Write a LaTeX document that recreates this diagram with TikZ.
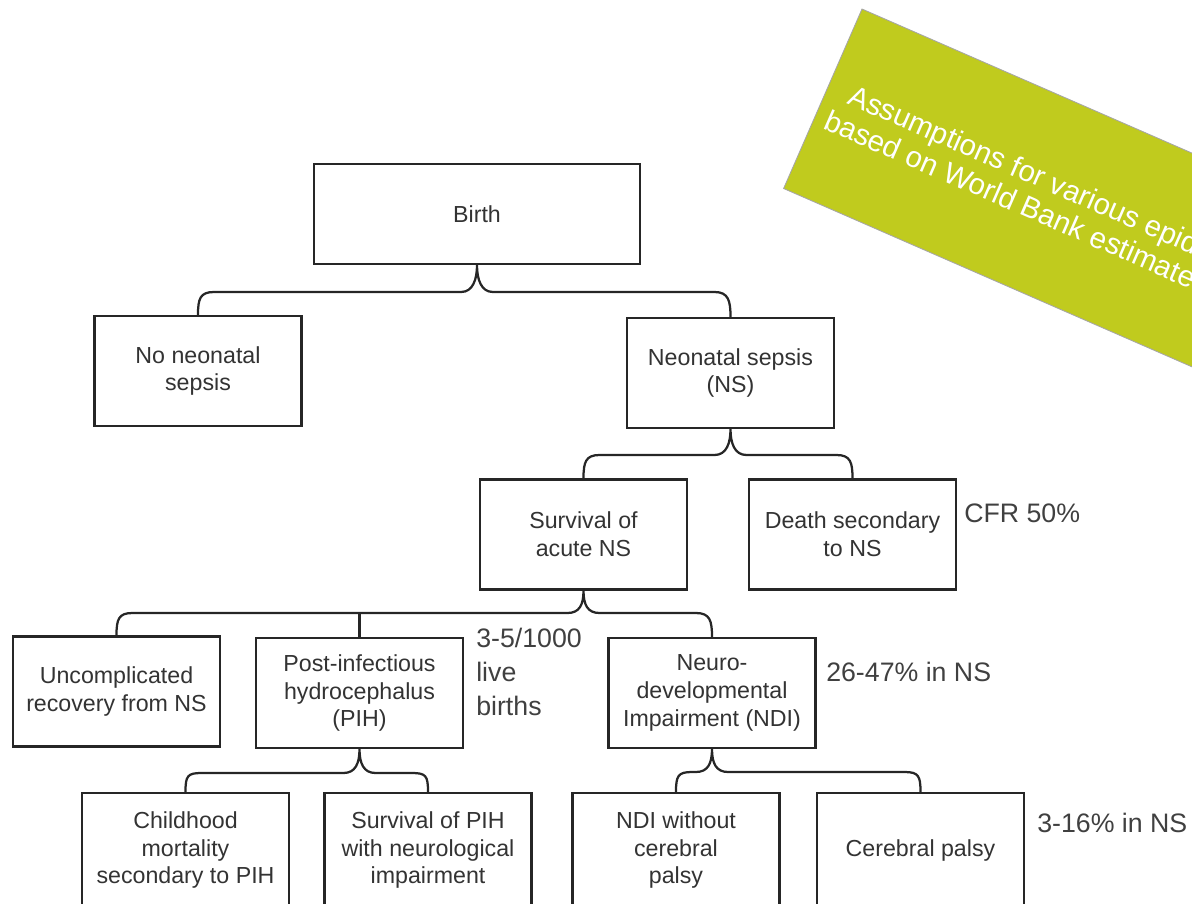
\documentclass[tikz,border=0pt]{standalone}
\usepackage{fontspec}
\setmainfont{Liberation Sans}
\usetikzlibrary{calc}
\definecolor{bannergreen}{RGB}{192,203,30}

% Curly branch from a parent box down to two child boxes, bar at height #4
\newcommand{\splitbrace}[4]{%
  \draw[branch] (#2.north) .. controls +(0,-16) and +(-14,0) .. ($(#2.north |- 0,#4)+(16,0)$)
    -- ($(#1.south |- 0,#4)+(-16,0)$) .. controls +(12,0) and +(0,14) .. (#1.south)
    .. controls +(0,14) and +(-12,0) .. ($(#1.south |- 0,#4)+(16,0)$)
    -- ($(#3.north |- 0,#4)+(-16,0)$) .. controls +(14,0) and +(0,-16) .. (#3.north);%
}

\begin{document}
\begin{tikzpicture}[x=0.025cm,y=-0.025cm,
    treebox/.style={draw=black!85,line width=1.6pt,fill=white,minimum width=5.175cm,minimum height=2.75cm,
      align=center,inner sep=2pt,text=black!80,font=\fontsize{16.5}{19.8}\selectfont},
    branch/.style={draw=black!85,line width=1.6pt},
    rate/.style={text=black!75,align=left,inner sep=0pt,font=\fontsize{19}{24}\selectfont},
    bannertext/.style={text=white,inner sep=0pt,rotate=-23.6,font=\fontsize{21}{23}\selectfont}]
    \useasboundingbox (0,0) rectangle (1192,903);
    \clip (0,0) rectangle (1192,903);

    % Green banner in the corner
    \filldraw[fill=bannergreen,draw=black!35,line width=0.6pt] (862,9) -- (1320,209) -- (1241.6,388.5) -- (783.6,188.5) -- cycle;
    \node[bannertext,anchor=base west] (bannerline1) at (846,103) {Assumptions for various epidemiological};
    \node[bannertext,anchor=base west] (bannerline2) at (822,128) {based on World Bank estimates};

    % Boxes of the tree
    \node[treebox,minimum width=8.15cm,minimum height=2.5cm] (birth) at (477,214) {Birth};
    \node[treebox] (nosepsis) at (198,371) {No neonatal\\sepsis};
    \node[treebox] (sepsis) at (730.5,373) {Neonatal sepsis\\(NS)};
    \node[treebox] (survival) at (583.5,534.5) {Survival of\\acute NS};
    \node[treebox] (death) at (852.5,534.5) {Death secondary\\to NS};
    \node[treebox] (recovery) at (116.5,691.5) {Uncomplicated\\recovery from NS};
    \node[treebox] (pih) at (359.5,693) {Post-infectious\\hydrocephalus\\(PIH)};
    \node[treebox] (ndi) at (712,693) {Neuro-\\developmental\\Impairment (NDI)};
    \node[treebox,minimum height=2.85cm] (pihdeath) at (185.5,850) {Childhood\\mortality\\secondary to PIH};
    \node[treebox,minimum height=2.85cm] (pihsurv) at (428,850) {Survival of PIH\\with neurological\\impairment};
    \node[treebox,minimum height=2.85cm] (ndionly) at (676,850) {NDI without\\cerebral\\palsy};
    \node[treebox,minimum height=2.85cm] (palsy) at (920.5,850) {Cerebral palsy};

    % Branches
    \splitbrace{birth}{nosepsis}{sepsis}{292}
    \splitbrace{sepsis}{survival}{death}{455}
    \splitbrace{survival}{recovery}{ndi}{613}
    \draw[branch] (pih.north) -- (pih.north |- 0,613);
    \splitbrace{pih}{pihdeath}{pihsurv}{773}
    \splitbrace{ndi}{ndionly}{palsy}{772}

    % Rates beside the boxes
    \node[rate,anchor=north west] (pihrate) at (476,628) {3-5/1000\\live\\births};
    \node[rate,anchor=west] (cfr) at (964,513) {CFR 50\%};
    \node[rate,anchor=west] (ndirate) at (826,672) {26-47\% in NS};
    \node[rate,anchor=west] (palsyrate) at (1037,823) {3-16\% in NS};
\end{tikzpicture}
\end{document}
